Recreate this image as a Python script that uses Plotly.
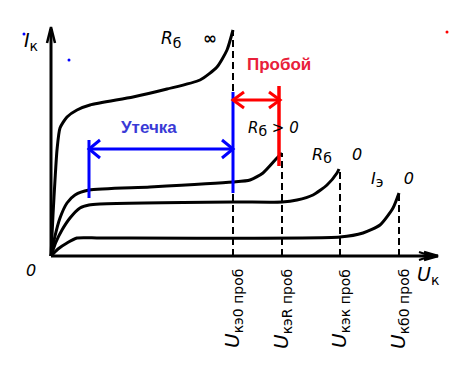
import math
import plotly.graph_objects as go

# ---- data (U, I in arbitrary schematic units; origin at axis crossing) ----
rb_inf_u = [0, 2, 4, 6, 9, 16, 26, 39, 82, 116, 149, 166, 176, 182]
rb_inf_i = [0, 41, 76, 106, 128, 139, 146, 151, 159, 167, 176, 189, 206, 226]

rb_pos_u = [0, 4, 9, 16, 24, 38, 99, 182, 199, 212, 226, 231]
rb_pos_i = [0, 20, 38, 53, 61, 66, 69, 74, 76, 83, 98, 103]

rb_zero_u = [0, 5, 11, 19, 29, 38, 49, 182, 231, 246, 262, 276, 286, 288]
rb_zero_i = [0, 14, 26, 38, 48, 51, 52, 54, 54, 56, 61, 71, 83, 87]

ie_zero_u = [0, 7, 16, 26, 49, 289, 312, 329, 342, 348]
ie_zero_i = [0, 7, 13, 18, 18, 19, 23, 31, 48, 63]

breakdown_u = [182, 231, 289, 348]
breakdown_i = [226, 103, 87, 63]
breakdown_subs = ["кэ0 проб", "кэR проб", "кэк проб", "кб0 проб"]

leak_u = [38, 182]
leak_i = 107
leak_left_i = [58, 116]
leak_right_i = [63, 164]

break_u = [182, 229]
break_i = 156
break_bar_u = 228
break_bar_i = [90, 170]

x_axis_end = 387
y_axis_end = 227

fig = go.Figure()

BLACK = "#000000"
BLUE = "#0000ff"
RED = "#ff0000"


def seg(x, y, color, width, dash="solid"):
    fig.add_trace(go.Scatter(x=x, y=y, mode="lines", hoverinfo="skip",
                             line=dict(color=color, width=width, dash=dash),
                             showlegend=False))


def head(tx, ty, dx, dy, spread, color, width, L=11):
    n = math.hypot(dx, dy)
    ux, uy = dx / n, dy / n
    px, py = -uy, ux
    a = (tx - ux * L + px * spread, ty - uy * L + py * spread)
    b = (tx - ux * L - px * spread, ty - uy * L - py * spread)
    seg([a[0], tx, b[0]], [a[1], ty, b[1]], color, width)


# axes
seg([0, 0], [0, y_axis_end], BLACK, 3)
seg([0, x_axis_end], [0, 0], BLACK, 3)
head(0, y_axis_end + 2, 0, 1, 4, BLACK, 2.5, L=16)
head(x_axis_end, 0, 1, 0, 4, BLACK, 2.5, L=14)
head(x_axis_end - 7, 0, 1, 0, 4, BLACK, 2, L=12)

# dashed breakdown lines
for u, i in zip(breakdown_u, breakdown_i):
    seg([u, u], [0, i], BLACK, 2, dash="7px,4px")

# curves
for uu, ii in [(rb_inf_u, rb_inf_i), (rb_pos_u, rb_pos_i),
               (rb_zero_u, rb_zero_i), (ie_zero_u, ie_zero_i)]:
    fig.add_trace(go.Scatter(x=uu, y=ii, mode="lines", hoverinfo="skip",
                             line=dict(color=BLACK, width=3, shape="spline",
                                       smoothing=0.6),
                             showlegend=False))

# leakage (blue)
seg(leak_u, [leak_i, leak_i], BLUE, 3)
seg([leak_u[0]] * 2, leak_left_i, BLUE, 3)
seg([leak_u[1]] * 2, leak_right_i, BLUE, 3)
head(leak_u[0], leak_i, -1, 0, 9, BLUE, 3)
head(leak_u[1], leak_i, 1, 0, 9, BLUE, 3)

# breakdown (red)
seg(break_u, [break_i, break_i], RED, 3)
seg([break_bar_u] * 2, break_bar_i, RED, 3.5)
head(break_u[0], break_i, -1, 0, 8, RED, 3)
head(break_u[1], break_i, 1, 0, 8, RED, 3)

# stray dots
fig.add_trace(go.Scatter(x=[-27, 18], y=[222, 196], mode="markers",
                         marker=dict(color=BLUE, size=3), hoverinfo="skip",
                         showlegend=False))
fig.add_trace(go.Scatter(x=[396], y=[224], mode="markers",
                         marker=dict(color=RED, size=3), hoverinfo="skip",
                         showlegend=False))

FONT = "DejaVu Sans"
ann = []


def txt(x, y, t, size, color=BLACK, angle=0, bold=False, fam=FONT,
        xa="center"):
    ann.append(dict(x=x, y=y, text=("<b>%s</b>" % t) if bold else t,
                    showarrow=False, textangle=angle,
                    font=dict(family=fam, size=size, color=color),
                    xanchor=xa, yanchor="middle"))


def sub(t, size):
    return "<sub><span style='font-size:%dpx'>%s</span></sub>" % (size, t)


txt(-20, 215, "<i>I</i>" + sub("к", 14), 19)
txt(138, 217, "<i>R</i>" + sub("б", 14) + "    <b>∞</b>", 17)
txt(222, 127, "<i>R</i>" + sub("б", 14) + " > <i>0</i>", 15)
txt(286, 101, "<i>R</i>" + sub("б", 14) + "    <i>0</i>", 16)
txt(341, 77, "<i>I</i>" + sub("э", 14) + "    <i>0</i>", 16)
txt(-20, -14, "<i>0</i>", 16)
txt(377, -19, "<i>U</i>" + sub("к", 14), 19)
for u, s in zip(breakdown_u, breakdown_subs):
    txt(u, -53, "<i>U</i>" + sub(s, 14), 20, angle=-90)

txt(98, 129, "Утечка", 17, color="#3a3ad6", bold=True, fam="Liberation Sans")
txt(228, 192, "Пробой", 17, color="#e8203a", bold=True, fam="Liberation Sans")

fig.update_layout(
    width=466, height=390,
    margin=dict(l=0, r=0, t=0, b=0),
    paper_bgcolor="white", plot_bgcolor="white",
    xaxis=dict(range=[-51, 415], visible=False, fixedrange=True),
    yaxis=dict(range=[-134, 256], visible=False, fixedrange=True),
    annotations=ann,
)

fig.write_html("out.html", config={"displayModeBar": False},
               post_script="document.body.style.margin='0px';")
